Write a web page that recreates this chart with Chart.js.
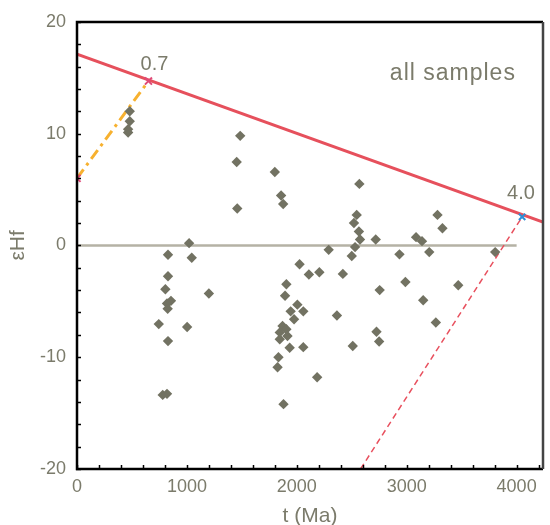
<!DOCTYPE html>
<html>
<head>
<meta charset="utf-8">
<script src="https://cdn.jsdelivr.net/npm/chart.js@4"></script>
<style>
  body { margin: 0; background: #fff; }
  #wrap { width: 550px; height: 525px; }
</style>
</head>
<body>
<div id="wrap"><canvas id="hf"></canvas></div>
<script>
// sample ages (Ma) and eHf values
const ageMa = [480, 480, 465, 465, 828, 1044, 1020, 828, 804, 1200, 855, 819, 825, 744, 1002, 828, 780, 819,
  1485, 1453, 1458, 1800, 1857, 1876, 2569, 2545, 2520, 2565, 2575, 2718, 2530, 2500,
  2290, 2934, 3085, 3139, 3205, 3280, 3325, 3805, 2025, 2110, 2205, 2419,
  1905, 1893, 2988, 2754, 3469, 3150, 2005, 2059, 1944, 1975, 2365, 3265,
  1870, 1905, 1845, 1915, 1845, 2725, 2749, 1935, 2059, 2509, 1833, 1825, 2185, 1879];
const epsHf = [12.0, 11.1, 10.4, 10.1, -0.83, -1.1, 0.2, -2.76, -3.92, -4.3, -4.96, -5.2, -5.67, -7.04, -7.3, -8.56, -13.37, -13.28,
  9.8, 7.46, 3.3, 6.57, 4.46, 3.7, 5.5, 2.73, 2.0, 1.25, 0.53, 0.53, -0.15, -0.95,
  -0.4, -0.8, 0.74, 0.38, -0.6, 2.73, 1.54, -0.6, -1.69, -2.6, -2.4, -2.55,
  -3.48, -4.5, -3.27, -4.0, -3.56, -4.9, -5.3, -5.9, -5.9, -6.6, -6.27, -6.9,
  -7.2, -7.5, -7.78, -8.1, -8.4, -7.72, -8.6, -9.15, -9.1, -9.0, -10.0, -10.9, -11.8, -14.2];

// reference lines
const depletedX = [0, 4240];
const depletedY = [17.1, 2.08];
const youngX = [0, 650];
const youngY = [6.0, 14.7];
const oldX = [2580, 4050];
const oldY = [-20, 2.55];
const zeroX = [0, 4000];
const zeroY = [0, 0];
const pinkMarkX = [0, 650];
const pinkMarkY = [6.0, 14.7];
const blueMarkX = [4050];
const blueMarkY = [2.55];

// axes
const xMin = 0, xMax = 4240, yMin = -20, yMax = 20;
const xTickValues = [0, 1000, 2000, 3000, 4000];
const yTickValues = [-20, -10, 0, 10, 20];
const xMinor = 200, yMinor = 2;

const textColor = '#7b7b6b';
const font = '"Liberation Sans", Arial, sans-serif';

function pts(xs, ys) {
  return xs.map((x, i) => ({ x: x, y: ys[i] }));
}

// axes frame, inner tick marks and the text notes
const decor = {
  id: 'decor',
  afterDraw(chart) {
    const ctx = chart.ctx;
    const a = chart.chartArea;
    const sx = chart.scales.x, sy = chart.scales.y;
    const L = Math.round(a.left), R = Math.round(a.right);
    const T = Math.round(a.top), B = Math.round(a.bottom);
    ctx.save();
    ctx.setLineDash([]);
    ctx.strokeStyle = '#000';
    ctx.lineWidth = 1.5;
    ctx.beginPath();
    for (let v = xMin; v <= xMax; v += xMinor) {
      const px = Math.round(sx.getPixelForValue(v)) + 0.5;
      ctx.moveTo(px, B + 1);
      ctx.lineTo(px, B - 4);
    }
    for (let v = yMin; v <= yMax; v += yMinor) {
      const py = Math.round(sy.getPixelForValue(v)) + 0.5;
      ctx.moveTo(L - 1, py);
      ctx.lineTo(L + 4, py);
    }
    ctx.stroke();

    ctx.lineWidth = 2.5;
    ctx.strokeStyle = '#000';
    ctx.beginPath();
    ctx.moveTo(R, T);
    ctx.lineTo(L, T);
    ctx.lineTo(L, B);
    ctx.lineTo(R, B);
    ctx.stroke();
    ctx.strokeStyle = '#444';
    ctx.beginPath();
    ctx.moveTo(R, T);
    ctx.lineTo(R, B);
    ctx.stroke();

    ctx.fillStyle = textColor;
    ctx.textAlign = 'center';
    ctx.textBaseline = 'middle';
    ctx.font = '20px ' + font;
    ctx.fillText('0.7', sx.getPixelForValue(705), sy.getPixelForValue(16.2));
    ctx.fillText('4.0', sx.getPixelForValue(4040), sy.getPixelForValue(4.6));
    ctx.font = '23px ' + font;
    ctx.letterSpacing = '1px';
    ctx.fillText('all samples', sx.getPixelForValue(3420), sy.getPixelForValue(15.4));
    ctx.restore();
  }
};

const chart = new Chart(document.getElementById('hf'), {
  type: 'scatter',
  data: {
    datasets: [
      {
        data: pts(zeroX, zeroY), showLine: true, borderColor: '#b5b2a5', borderWidth: 2.5,
        pointRadius: 0, order: 5
      },
      {
        data: pts(ageMa, epsHf), pointStyle: 'rectRot', pointRadius: 5.2,
        backgroundColor: '#727262', borderWidth: 0, order: 1
      },
      {
        data: pts(depletedX, depletedY), showLine: true, borderColor: '#e6505c', borderWidth: 3,
        pointRadius: 0, order: 2
      },
      {
        data: pts(youngX, youngY), showLine: true, borderColor: '#f7b12f', borderWidth: 3,
        borderDash: [11, 5, 3, 5], pointRadius: 0, order: 3
      },
      {
        data: pts(oldX, oldY), showLine: true, borderColor: '#e8505e', borderWidth: 1.5,
        borderDash: [6, 4], pointRadius: 0, order: 3
      },
      {
        data: pts(pinkMarkX, pinkMarkY), pointStyle: 'crossRot', pointRadius: 5,
        borderColor: '#df4a78', borderWidth: 2, order: 0
      },
      {
        data: pts(blueMarkX, blueMarkY), pointStyle: 'crossRot', pointRadius: 4.5,
        borderColor: '#2f8ed6', borderWidth: 2, order: 0
      }
    ]
  },
  options: {
    responsive: true,
    maintainAspectRatio: false,
    animation: false,
    layout: { padding: { top: 20, right: 2, left: 0, bottom: 0 } },
    plugins: { legend: { display: false }, tooltip: { enabled: false } },
    scales: {
      x: {
        type: 'linear', min: xMin, max: xMax,
        afterFit: s => { s.height = 56; },
        afterBuildTicks: s => { s.ticks = xTickValues.map(v => ({ value: v })); },
        ticks: {
          autoSkip: false, maxRotation: 0,
          color: textColor, font: { size: 18, family: font }, padding: 7,
          callback: v => String(v)
        },
        grid: { display: false, drawTicks: false },
        border: { display: false },
        title: {
          display: true, text: 't (Ma)', color: textColor,
          font: { size: 21, family: font, lineHeight: 1 }, padding: { top: 0, bottom: -2 }
        }
      },
      y: {
        type: 'linear', min: yMin, max: yMax,
        afterFit: s => { s.width = 77; },
        afterBuildTicks: s => { s.ticks = yTickValues.map(v => ({ value: v })); },
        ticks: {
          autoSkip: false,
          color: textColor, font: { size: 18, family: font }, padding: 11,
          callback: v => String(v)
        },
        grid: { display: false, drawTicks: false },
        border: { display: false },
        title: {
          display: true, text: 'εHf', color: textColor,
          font: { size: 21, family: font, lineHeight: 1 }, padding: { top: 8, bottom: 0 }
        }
      }
    }
  },
  plugins: [decor]
});
</script>
</body>
</html>
